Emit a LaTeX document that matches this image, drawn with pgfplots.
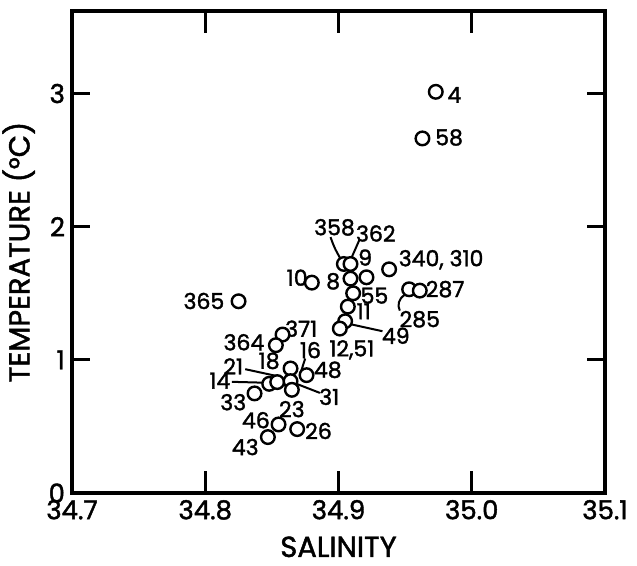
\documentclass[border=0pt]{standalone}
\usepackage{pgfplots}
\pgfplotsset{compat=1.18}
\usepackage{fontspec}
\setmainfont{Poppins}[FakeBold=1.6]
\newcommand\lbl{\fontsize{11}{12}\selectfont}
\begin{document}
\begin{tikzpicture}
\begin{axis}[
  name=ax,
  scale only axis,
  width=266.5pt, height=241pt,
  xmin=34.7, xmax=35.1, ymin=0, ymax=3.62,
  xtick={34.7,34.8,34.9,35.0,35.1},
  xticklabels={34.7,34.8,34.9,35.0,35.1},
  ytick={0,1,2,3},
  yticklabels={0,1,2,3},
  xticklabel pos=bottom, yticklabel pos=left,
  /pgf/number format/assume math mode=true,
  major tick length=0pt,
  axis line style={line width=2pt},
  tick label style={font=\fontsize{13}{14}\selectfont},
  xlabel={SALINITY}, ylabel={TEMPERATURE (°C)},
  xlabel style={yshift=-1.5pt},
  label style={font=\fontsize{14.5}{16}\selectfont},
  clip=false,
]
\addplot[only marks, mark=*, mark size=3.4pt,
  mark options={fill=white, draw=black, line width=1.2pt}] coordinates {
(34.904,1.72)
(34.909,1.72)
(34.909,1.61)
(34.921,1.62)
(34.938,1.68)
(34.880,1.58)
(34.911,1.50)
(34.907,1.40)
(34.905,1.29)
(34.901,1.235)
(34.953,1.53)
(34.961,1.52)
(34.825,1.44)
(34.858,1.19)
(34.853,1.11)
(34.864,0.935)
(34.876,0.885)
(34.848,0.82)
(34.854,0.833)
(34.864,0.84)
(34.865,0.775)
(34.837,0.748)
(34.855,0.515)
(34.869,0.48)
(34.847,0.42)
(34.973,3.013)
(34.963,2.663)
};
% tick strokes
\draw[line width=1.5pt] (axis cs:34.8,0) -- (axis cs:34.8,0.165);
\draw[line width=1.5pt] (axis cs:34.9,0) -- (axis cs:34.9,0.165);
\draw[line width=1.5pt] (axis cs:35.0,0) -- (axis cs:35.0,0.165);
\draw[line width=1.5pt] (axis cs:34.8,3.62) -- (axis cs:34.8,3.455);
\draw[line width=1.5pt] (axis cs:34.9,3.62) -- (axis cs:34.9,3.455);
\draw[line width=1.5pt] (axis cs:35.0,3.62) -- (axis cs:35.0,3.455);
\draw[line width=1.5pt] (axis cs:34.7,1) -- (axis cs:34.7135,1);
\draw[line width=1.5pt] (axis cs:34.7,2) -- (axis cs:34.7135,2);
\draw[line width=1.5pt] (axis cs:34.7,3) -- (axis cs:34.7135,3);
\draw[line width=1.5pt] (axis cs:35.1,1) -- (axis cs:35.0865,1);
\draw[line width=1.5pt] (axis cs:35.1,2) -- (axis cs:35.0865,2);
\draw[line width=1.5pt] (axis cs:35.1,3) -- (axis cs:35.0865,3);
% labels
\node[font=\lbl] at (axis cs:34.987,2.99) {4};
\node[font=\lbl] at (axis cs:34.983,2.67) {58};
\node[font=\lbl] at (axis cs:34.897,1.995) {358};
\node[font=\lbl] at (axis cs:34.928,1.949) {362};
\node[font=\lbl] at (axis cs:34.920,1.768) {9};
\node[font=\lbl] at (axis cs:34.977,1.752) {340, 310};
\node[font=\lbl] at (axis cs:34.869,1.617) {10};
\node[font=\lbl] at (axis cs:34.896,1.590) {8};
\node[font=\lbl] at (axis cs:34.980,1.531) {287};
\node[font=\lbl] at (axis cs:34.927,1.482) {55};
\node[font=\lbl] at (axis cs:34.799,1.442) {365};
\node[font=\lbl] at (axis cs:34.919,1.365) {11};
\node[font=\lbl] at (axis cs:34.961,1.305) {285};
\node[font=\lbl] at (axis cs:34.872,1.234) {371};
\node[font=\lbl] at (axis cs:34.943,1.181) {49};
\node[font=\lbl] at (axis cs:34.829,1.132) {364};
\node[font=\lbl] at (axis cs:34.910,1.075) {12,51};
\node[font=\lbl] at (axis cs:34.879,1.073) {16};
\node[font=\lbl] at (axis cs:34.848,0.992) {18};
\node[font=\lbl] at (axis cs:34.821,0.951) {21};
\node[font=\lbl] at (axis cs:34.892,0.925) {48};
\node[font=\lbl] at (axis cs:34.811,0.844) {14};
\node[font=\lbl] at (axis cs:34.893,0.722) {31};
\node[font=\lbl] at (axis cs:34.821,0.682) {33};
\node[font=\lbl] at (axis cs:34.865,0.630) {23};
\node[font=\lbl] at (axis cs:34.838,0.547) {46};
\node[font=\lbl] at (axis cs:34.885,0.466) {26};
\node[font=\lbl] at (axis cs:34.830,0.345) {43};
% leader lines
\draw[line width=1pt] (axis cs:34.894,1.922) .. controls (axis cs:34.897,1.84) .. (axis cs:34.902,1.75);
\draw[line width=1pt] (axis cs:34.916,1.908) -- (axis cs:34.910,1.772);
\draw[line width=1pt] (axis cs:34.950,1.49) .. controls (axis cs:34.945,1.46) and (axis cs:34.944,1.41) .. (axis cs:34.946,1.37);
\draw[line width=1pt] (axis cs:34.908,1.27) -- (axis cs:34.933,1.215);
\draw[line width=1pt] (axis cs:34.830,0.93) -- (axis cs:34.853,0.88);
\draw[line width=1pt] (axis cs:34.820,0.835) -- (axis cs:34.846,0.828);
\draw[line width=1pt] (axis cs:34.875,1.010) -- (axis cs:34.871,0.885);
\draw[line width=1pt] (axis cs:34.869,0.818) -- (axis cs:34.886,0.752);
\end{axis}
\pgfresetboundingbox
\path[use as bounding box] ([shift={(-36pt,-36pt)}]ax.south west) rectangle ([shift={(16pt,5.5pt)}]ax.north east);
\end{tikzpicture}
\end{document}
